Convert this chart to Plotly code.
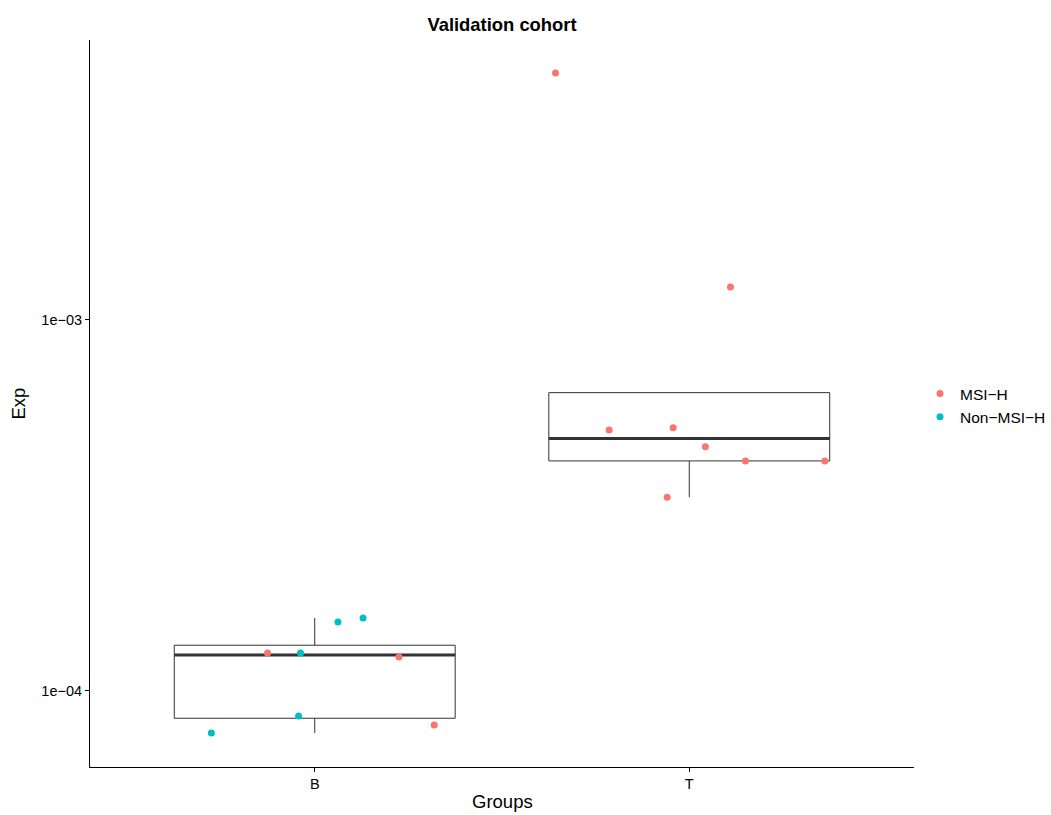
import numpy as np
import plotly.graph_objects as go

# Expression values per sample
groups = ["B", "B", "B", "B", "B", "B", "B", "B",
          "T", "T", "T", "T", "T", "T", "T", "T"]
status = ["MSI-H", "Non-MSI-H", "MSI-H", "Non-MSI-H", "Non-MSI-H", "Non-MSI-H", "Non-MSI-H", "MSI-H",
          "MSI-H", "MSI-H", "MSI-H", "MSI-H", "MSI-H", "MSI-H", "MSI-H", "MSI-H"]
exp_values = [1.266e-4, 1.266e-4, 1.235e-4, 1.535e-4, 1.573e-4, 8.56e-5, 7.70e-5, 8.10e-5,
              4.63e-3, 1.227e-3, 5.05e-4, 5.12e-4, 4.55e-4, 4.17e-4, 4.17e-4, 3.33e-4]
jitter = [-0.126, -0.038, 0.225, 0.062, 0.129, -0.043, -0.276, 0.319,
          -0.357, 0.110, -0.214, -0.043, 0.043, 0.150, 0.362, -0.059]

group_labels = ["B", "T"]
status_labels = ["MSI-H", "Non-MSI-H"]
status_names = {"MSI-H": "MSI\u2212H", "Non-MSI-H": "Non\u2212MSI\u2212H"}
status_colors = {"MSI-H": "#F8766D", "Non-MSI-H": "#00BFC4"}
y_tickvals = [1e-4, 1e-3]
y_ticktext = ["1e\u221204", "1e\u221203"]

BOX_W = 0.75
LINE_COL = "#333333"
FONT = "Liberation Sans, Arial, sans-serif"

fig = go.Figure()

# Boxplot statistics on the log10 scale (Tukey whiskers, 1.5 IQR)
for gi, g in enumerate(group_labels):
    vals = np.array([v for v, gg in zip(exp_values, groups) if gg == g])
    lv = np.log10(vals)
    q1, med, q3 = np.percentile(lv, [25, 50, 75])
    iqr = q3 - q1
    lo = min(lv[lv >= q1 - 1.5 * iqr].min(), q1)
    hi = max(lv[lv <= q3 + 1.5 * iqr].max(), q3)
    fig.add_trace(go.Box(
        x=[gi], q1=[10 ** q1], median=[10 ** med], q3=[10 ** q3],
        lowerfence=[10 ** lo], upperfence=[10 ** hi],
        width=BOX_W, whiskerwidth=0, fillcolor="rgba(0,0,0,0)",
        line=dict(color=LINE_COL, width=1), showlegend=False, hoverinfo="skip",
    ))
    # thicker median bar
    fig.add_trace(go.Scatter(
        x=[gi - BOX_W / 2, gi + BOX_W / 2], y=[10 ** med, 10 ** med],
        mode="lines", line=dict(color=LINE_COL, width=3),
        showlegend=False, hoverinfo="skip",
    ))

# Jittered sample points
for s in status_labels:
    xs = [group_labels.index(g) + j for g, j, st in zip(groups, jitter, status) if st == s]
    ys = [v for v, st in zip(exp_values, status) if st == s]
    fig.add_trace(go.Scatter(
        x=xs, y=ys, mode="markers", name=status_names[s],
        marker=dict(color=status_colors[s], size=7, line=dict(width=0)),
    ))

fig.update_layout(
    width=1051, height=815,
    margin=dict(l=90, r=137, t=40, b=48),
    paper_bgcolor="white", plot_bgcolor="white",
    font=dict(family=FONT, color="black"),
    title=dict(text="<b>Validation cohort</b>", x=(90 + 914) / 2 / 1051, xanchor="center",
               y=1 - 25 / 815, yanchor="middle", font=dict(size=18.4, color="black")),
    legend=dict(xref="container", yref="container", x=920 / 1051, xanchor="left",
                y=1 - 405.5 / 815, yanchor="middle",
                font=dict(size=15.5, color="black"), itemwidth=30,
                tracegroupgap=0, bgcolor="rgba(0,0,0,0)"),
    annotations=[
        dict(text="Groups", xref="paper", yref="paper", x=0.5, y=-(802 - 767) / 727,
             xanchor="center", yanchor="middle", showarrow=False,
             font=dict(size=18.5, color="black", family=FONT)),
        dict(text="Exp", xref="paper", yref="paper", x=(18 - 90) / 824, y=0.5,
             xanchor="center", yanchor="middle", showarrow=False, textangle=-90,
             font=dict(size=18.5, color="black", family=FONT)),
    ],
)

fig.update_xaxes(
    range=[-0.6, 1.6], tickvals=[0, 1], ticktext=group_labels, automargin=False,
    showgrid=False, zeroline=False, showline=True, linecolor="black", linewidth=1,
    ticks="outside", ticklen=4, tickcolor="black", tickfont=dict(size=14.5, color="black"),
)
fig.update_yaxes(
    type="log", range=[-4.2049, -2.2453], tickvals=y_tickvals, ticktext=y_ticktext,
    automargin=False,
    showgrid=False, zeroline=False, showline=True, linecolor="black", linewidth=1,
    ticks="outside", ticklen=4, tickcolor="black", tickfont=dict(size=14.5, color="black"),
)

fig.write_html("out.html")
